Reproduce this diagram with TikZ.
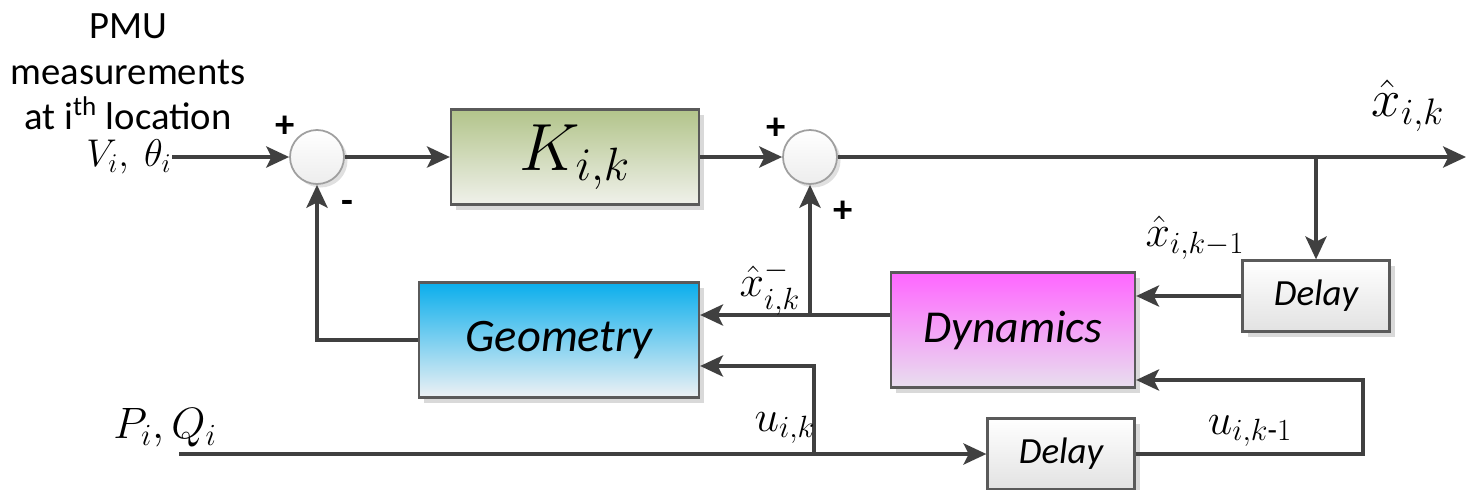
\RequirePackage{fix-cm}
\documentclass[tikz,border=0pt]{standalone}
\usepackage{amsmath}
\usepackage{fontspec}
\setmainfont{Carlito}
\usetikzlibrary{arrows.meta,positioning,calc,shadows}
\definecolor{linedark}{HTML}{404040}
\definecolor{boxedge}{HTML}{5A5A5A}
\definecolor{gaingreen}{HTML}{B2C48A}
\definecolor{gainpale}{HTML}{F0F1EB}
\definecolor{geocyan}{HTML}{0AAEEC}
\definecolor{geopale}{HTML}{EEF1F4}
\definecolor{dynpink}{HTML}{FF66FF}
\definecolor{dynpale}{HTML}{E8DFEE}
\definecolor{delaygray}{HTML}{E2E2E2}
\tikzset{
  block/.style={draw=boxedge, line width=1.3pt, inner sep=0pt,
    drop shadow={shadow xshift=3pt, shadow yshift=-3pt, opacity=0.15, fill=black}},
  gainblock/.style={block, top color=gaingreen, bottom color=gainpale,
    minimum width=4.96cm, minimum height=1.9cm, font=\fontsize{38}{44}\selectfont},
  geoblock/.style={block, top color=geocyan, bottom color=geopale,
    minimum width=5.6cm, minimum height=2.3cm, font=\fontsize{26.5}{30}\selectfont\itshape},
  dynblock/.style={block, top color=dynpink, bottom color=dynpale,
    minimum width=4.88cm, minimum height=2.3cm, font=\fontsize{26}{30}\selectfont\itshape},
  delayblock/.style={block, top color=white, bottom color=delaygray,
    minimum width=2.94cm, minimum height=1.42cm, font=\fontsize{21}{25}\selectfont\itshape},
  sumnode/.style={circle, draw=gray!75, line width=1pt, minimum size=1.08cm, inner sep=0pt,
    top color=white, bottom color=gray!14,
    drop shadow={shadow xshift=2pt, shadow yshift=-2pt, opacity=0.12, fill=black}},
  flow/.style={-{Stealth[length=13pt, width=12pt, inset=3pt]}, line width=2.2pt, color=linedark},
  wire/.style={line width=2.2pt, color=linedark},
  sign/.style={font=\fontsize{22}{24}\selectfont\bfseries, inner sep=0pt},
  lbl/.style={font=\fontsize{25}{28}\selectfont, inner sep=0pt},
}

\begin{document}
\begin{tikzpicture}[x=0.02cm, y=-0.02cm]
  \useasboundingbox (0,0) rectangle (1468,490);
  % blocks
  \node[sumnode] (sum1) at (317,157) {};
  \node[gainblock] (gain) at (575,157) {$K_{i,k}$};
  \node[sumnode] (sum2) at (810,157) {};
  \node[geoblock] (geo) at (559,340) {Geometry};
  \node[dynblock] (dyn) at (1013,330) {Dynamics};
  \node[delayblock] (del1) at (1316,296) {Delay};
  \node[delayblock] (del2) at (1061,454) {Delay};
  % inputs
  \node[font=\fontsize{22}{26}\selectfont, align=center, inner sep=0pt] (pmu) at (128,72)
    {PMU\\measurements\\at i\textsuperscript{th} location};
  \node[lbl, anchor=east, font=\fontsize{22}{24}\selectfont] (vth) at (172,157) {$V_i,\ \theta_i$};
  \node[lbl] (pq) at (165,428) {$P_i, Q_i$};
  \coordinate (pqin) at (179,454);
  % junctions
  \coordinate (out) at (1466,157);
  \coordinate (br1) at (1316,157);
  \coordinate (br2) at (810,315);
  \coordinate (br3) at (814,454);
  \coordinate (ret) at (1363,380);
  % forward path
  \draw[flow] (vth.east) -- (sum1.west);
  \draw[flow] (sum1.east) -- (gain.west);
  \draw[flow] (gain.east) -- (sum2.west);
  \draw[flow] (sum2.east) -- (out);
  \draw[flow] (br1) -- (del1.north);
  \draw[flow] (del1.west) -- (del1.west -| dyn.east);
  \draw[wire] (dyn.west |- br2) -- (br2);
  \draw[flow] (br2) -- (geo.east |- br2);
  \draw[flow] (br2) -- (sum2.south);
  \draw[flow] (geo.west) -| (sum1.south);
  \draw[flow] (pqin) -- (del2.west);
  \draw[flow] (br3) |- ([yshift=-0.52cm]geo.east);
  \draw[flow] (del2.east) -| (ret) -- (ret -| dyn.east);
  % signs and signal names
  \node[sign] (p1) at (285,127) {+};
  \node[sign] (m1) at (347,207) {-};
  \node[sign] (p2) at (776,129) {+};
  \node[sign] (p3) at (843,212) {+};
  \node[lbl, font=\fontsize{30}{34}\selectfont] (xout) at (1408,106) {$\hat{x}_{i,k}$};
  \node[lbl] (xprev) at (1195,238) {$\hat{x}_{i,k-1}$};
  \node[lbl] (xpri) at (770,288) {$\hat{x}^{-}_{i,k}$};
  \node[lbl] (uk) at (785,428) {$u_{i,k}$};
  \node[lbl] (ukp) at (1250,431) {$u_{i,k\text{-}1}$};
\end{tikzpicture}
\end{document}
